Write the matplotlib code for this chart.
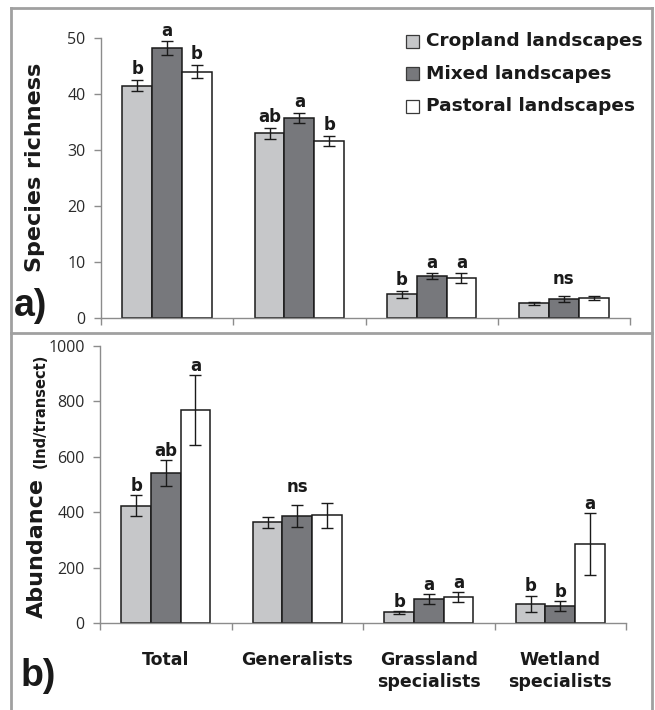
import numpy as np
import matplotlib
matplotlib.use('Agg')
import matplotlib.pyplot as plt
from matplotlib.patches import Rectangle
from matplotlib.lines import Line2D

# data
landscapes = ['Cropland landscapes', 'Mixed landscapes', 'Pastoral landscapes']
groups = ['Total', 'Generalists', 'Grassland\nspecialists', 'Wetland\nspecialists']
colors = ['#c6c7c9', '#77787c', '#ffffff']

richness = [[41.5, 33.0, 4.2, 2.6],
            [48.2, 35.7, 7.5, 3.4],
            [44.0, 31.6, 7.1, 3.6]]
richness_err = [[1.0, 1.0, 0.7, 0.2],
                [1.2, 0.9, 0.5, 0.5],
                [1.2, 0.9, 0.9, 0.3]]
richness_letters = [['b', 'a', 'b'], ['ab', 'a', 'b'], ['b', 'a', 'a'], 'ns']

abundance = [[424, 365, 40, 70],
             [541, 387, 88, 62],
             [768, 389, 95, 286]]
abundance_err = [[37, 20, 5, 30],
                 [47, 38, 18, 18],
                 [126, 44, 17, 111]]
abundance_letters = [['b', 'ab', 'a'], 'ns', ['b', 'a', 'a'], ['b', 'b', 'a']]

W, H = 655, 710
plt.rcParams['font.family'] = ['Open Sans', 'DejaVu Sans']
BOLD = 'DejaVu Sans'
INK = '#1a1a1a'
fig = plt.figure(figsize=(W / 100, H / 100), dpi=100)


def fx(px):
    return px / W


def fy(py):
    return 1 - py / H


def draw_panel(ax, vals, errs, letters, ymax, ystep, off_pt):
    n = len(groups)
    width = 0.225
    x = np.arange(n) + 0.5
    tops = []
    for k in range(3):
        xs = x + (k - 1) * width
        ax.bar(xs, vals[k], width, color=colors[k], edgecolor=INK, linewidth=1.1, zorder=2)
        ax.errorbar(xs, vals[k], yerr=errs[k], fmt='none', ecolor=INK,
                    elinewidth=1, capsize=4, capthick=1, zorder=3)
        tops.append(np.array(vals[k]) + np.array(errs[k]))
    tops = np.array(tops)
    for i, lab in enumerate(letters):
        if isinstance(lab, str):
            ax.annotate(lab, (x[i], tops[:, i].max()), xytext=(0, off_pt + 5),
                        textcoords='offset points', ha='center', va='baseline',
                        fontsize=12, fontweight='bold', family=BOLD, color=INK)
        else:
            for k in range(3):
                ax.annotate(lab[k], (x[i] + (k - 1) * width, tops[k, i]), xytext=(0, off_pt),
                            textcoords='offset points', ha='center', va='baseline',
                            fontsize=12, fontweight='bold', family=BOLD, color=INK)
    ax.set_xlim(0, n)
    ax.set_ylim(0, ymax)
    ax.set_yticks(np.arange(0, ymax + 1, ystep))
    ax.set_xticks(np.arange(n + 1))
    ax.set_xticklabels([])
    for s in ['top', 'right']:
        ax.spines[s].set_visible(False)
    for s in ['left', 'bottom']:
        ax.spines[s].set_color('#8c8c8c')
        ax.spines[s].set_linewidth(1)
    ax.tick_params(axis='both', which='major', color='#8c8c8c', length=5, width=1,
                   labelsize=11.5, labelcolor='#2a2a2a')
    ax.tick_params(axis='y', pad=6)


ax1 = fig.add_axes([fx(101), fy(318), fx(630) - fx(101), fy(38) - fy(318)])
draw_panel(ax1, richness, richness_err, richness_letters, 50, 10, 4)

ax2 = fig.add_axes([fx(100), fy(623.3), fx(626) - fx(100), fy(346) - fy(623.3)])
draw_panel(ax2, abundance, abundance_err, abundance_letters, 1000, 200, 3)
ax2.set_xticks(np.arange(len(groups)) + 0.5, groups, minor=True)
ax2.tick_params(axis='x', which='minor', length=0, pad=20, labelsize=12.5, labelcolor=INK)
for t in ax2.get_xticklabels(minor=True):
    t.set_fontweight('bold')
    t.set_family(BOLD)
    t.set_linespacing(1.3)

# y labels
fig.text(fx(35), fy(167), 'Species richness', rotation=90, ha='center', va='center',
         fontsize=16, fontweight='bold', family=BOLD, color=INK)
fig.text(fx(37), fy(618), 'Abundance', rotation=90, ha='center', va='bottom',
         fontsize=16, fontweight='bold', family=BOLD, color=INK)
fig.text(fx(40), fy(468), '(Ind/transect)', rotation=90, ha='center', va='bottom',
         fontsize=10.5, fontweight='bold', family=BOLD, color=INK)

# panel tags
fig.text(fx(14), fy(316), 'a)', ha='left', va='baseline', fontsize=27, fontweight='bold',
         family='Liberation Sans', color=INK)
fig.text(fx(21), fy(686), 'b)', ha='left', va='baseline', fontsize=27, fontweight='bold',
         family='Liberation Sans', color=INK)

# legend
for k, lab in enumerate(landscapes):
    cy = 41.5 + k * 32.3
    fig.add_artist(Rectangle((fx(406), fy(cy + 6.5)), fx(13), fy(0) - fy(13),
                             transform=fig.transFigure, facecolor=colors[k],
                             edgecolor='#3a3a3a', linewidth=0.9))
    fig.text(fx(426), fy(cy), lab, ha='left', va='center', fontsize=13.3,
             fontweight='bold', family=BOLD, color=INK)

# panel frames
frame = dict(color='#a0a0a0', linewidth=2, transform=fig.transFigure)
fig.add_artist(Line2D([fx(11), fx(652)], [fy(8), fy(8)], **frame))
fig.add_artist(Line2D([fx(11), fx(652)], [fy(333), fy(333)], **frame))
fig.add_artist(Line2D([fx(11), fx(11)], [fy(8), fy(710)], **frame))
fig.add_artist(Line2D([fx(652), fx(652)], [fy(8), fy(710)], **frame))

fig.savefig('out.png', dpi=100)
